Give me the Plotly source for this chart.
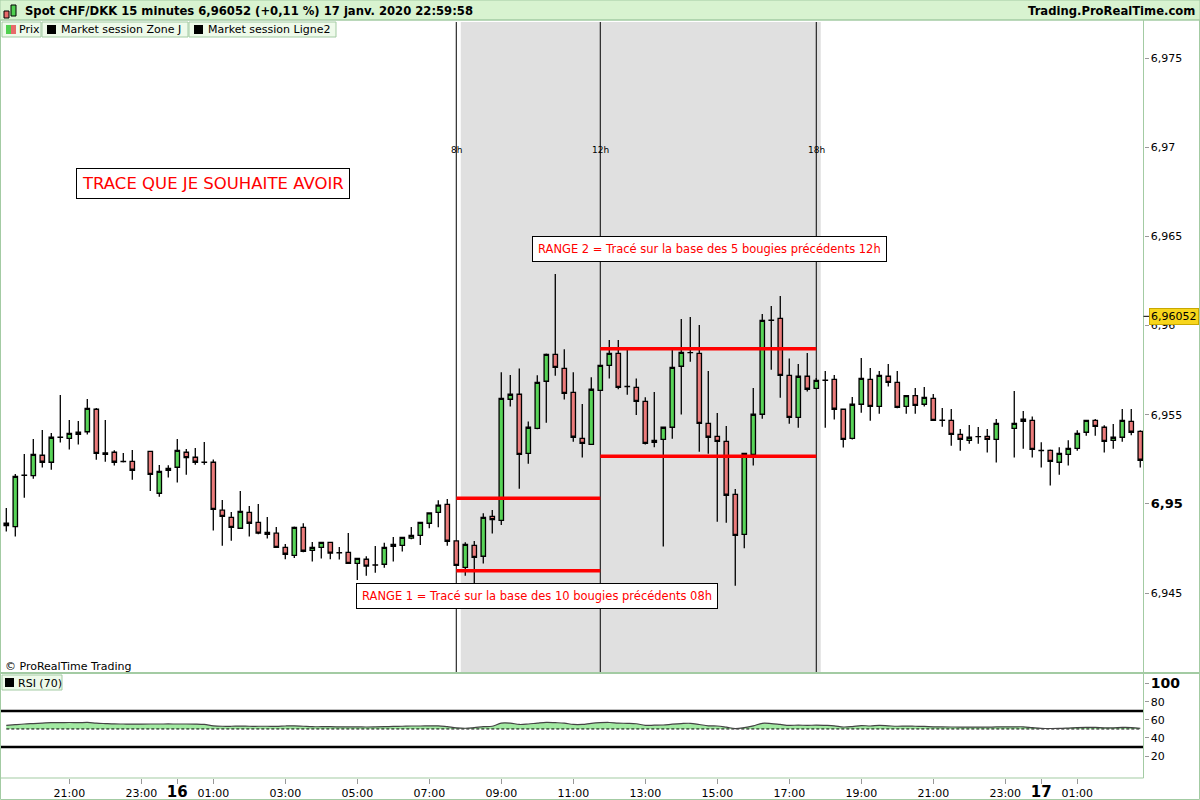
import pandas as pd
import plotly.graph_objects as go

# ---------------- data ----------------
times = pd.date_range("2020-01-15 19:15", periods=127, freq="15min")

opens = [6.94892, 6.94873, 6.95161, 6.95159, 6.95273, 6.95234, 6.95374, 6.95368, 6.95390, 6.95405,
         6.95531, 6.95286, 6.95290, 6.95239, 6.95239, None, 6.95295, 6.95060, 6.95189, 6.95206,
         6.95290, 6.95262, 6.95234, 6.95234, 6.94965, 6.94925, 6.94864, 6.94953, 6.94897, 6.94841,
         6.94836, 6.94757, 6.94712, 6.94869, 6.94740, 6.94757, 6.94785, 6.94727, 6.94729, 6.94667,
         6.94690, 6.94658, 6.94662, 6.94763, 6.94768, 6.94808, 6.94824, 6.94892, 6.94953, 6.94998,
         6.94793, 6.94645, 6.94768, 6.94707, 6.94931, 6.94908, 6.95587, 6.95615, 6.95284, 6.95424,
         6.95688, 6.95839, 6.95760, 6.95626, 6.95368, 6.95334, 6.95637, 6.95777, 6.95844, 6.95658,
         6.95654, 6.95575, 6.95346, 6.95362, 6.95430, 6.95772, 6.95848, 6.95844, 6.95452, 6.95379,
         6.95351, 6.95054, 6.94830, 6.95278, 6.95503, 6.96031, 6.96041, 6.95721, 6.95486, 6.95716,
         6.95648, 6.95693, 6.95699, 6.95531, 6.95368, 6.95559, 6.95699, 6.95547, 6.95716, 6.95682,
         6.95547, 6.95607, 6.95559, 6.95592, 6.95469, 6.95469, 6.95390, 6.95357, 6.95377, 6.95379,
         6.95362, None, 6.95424, 6.95463, 6.95469, 6.95299, 6.95301, 6.95234, 6.95278, 6.95312,
         6.95402, 6.95469, 6.95430, 6.95357, 6.95374, 6.95463, 6.95407]
highs = [6.94978, 6.95168, 6.95280, 6.95364, 6.95415, 6.95398, 6.95611, 6.95471, 6.95465, 6.95589,
         6.95538, 6.95471, 6.95301, 6.95286, 6.95303, None, 6.95295, 6.95219, 6.95217, 6.95364,
         6.95308, 6.95314, 6.95348, 6.95250, 6.95022, 6.94955, 6.95073, 6.94989, 6.95000, 6.94927,
         6.94871, 6.94776, 6.94873, 6.94892, 6.94787, 6.94785, 6.94785, 6.94759, 6.94837, 6.94695,
         6.94707, 6.94765, 6.94783, 6.94815, 6.94813, 6.94871, 6.94897, 6.94950, 6.95021, 6.95028,
         6.94793, 6.94785, 6.94793, 6.94948, 6.94966, 6.95738, 6.95723, 6.95760, 6.95463, 6.95721,
         6.95844, 6.96289, 6.95867, 6.95738, 6.95561, 6.95710, 6.95777, 6.95919, 6.95919, 6.95863,
         6.95704, 6.95598, 6.95628, 6.95433, 6.95863, 6.96037, 6.96048, 6.96003, 6.95745, 6.95510,
         6.95437, 6.95084, 6.95284, 6.95650, 6.96065, 6.96110, 6.96166, 6.95816, 6.95785, 6.95846,
         6.95706, 6.95745, 6.95723, 6.95532, 6.95600, 6.95818, 6.95762, 6.95745, 6.95785, 6.95745,
         6.95607, 6.95650, 6.95656, 6.95617, 6.95538, 6.95532, 6.95420, 6.95443, 6.95432, 6.95420,
         6.95476, None, 6.95633, 6.95521, 6.95491, 6.95346, 6.95306, 6.95318, 6.95357, 6.95413,
         6.95471, 6.95476, 6.95441, 6.95448, 6.95532, 6.95532, 6.95413]
lows = [6.94845, 6.94817, 6.95035, 6.95142, 6.95204, 6.95192, 6.95344, 6.95305, 6.95333, 6.95390,
        6.95248, 6.95237, 6.95215, 6.95232, 6.95136, None, 6.95073, 6.95041, 6.95148, 6.95120,
        6.95164, 6.95220, 6.95220, 6.94851, 6.94766, 6.94794, 6.94862, 6.94817, 6.94830, 6.94806,
        6.94753, 6.94690, 6.94697, 6.94729, 6.94677, 6.94694, 6.94690, 6.94688, 6.94667, 6.94574,
        6.94598, 6.94615, 6.94643, 6.94677, 6.94733, 6.94802, 6.94770, 6.94864, 6.94869, 6.94766,
        6.94656, 6.94598, 6.94552, 6.94666, 6.94834, 6.94882, 6.95546, 6.95086, 6.95226, 6.95419,
        6.95456, 6.95719, 6.95585, 6.95349, 6.95260, 6.95334, 6.95637, 6.95704, 6.95643, 6.95613,
        6.95499, 6.95333, 6.95318, 6.94761, 6.95366, 6.95501, 6.95798, 6.95293, 6.95282, 6.94901,
        6.94895, 6.94542, 6.94752, 6.95215, 6.95478, 6.95753, 6.95596, 6.95450, 6.95428, 6.95630,
        6.95643, 6.95428, 6.95473, 6.95316, 6.95362, 6.95512, 6.95467, 6.95506, 6.95658, 6.95536,
        6.95506, 6.95506, 6.95547, 6.95469, 6.95433, 6.95327, 6.95299, 6.95338, 6.95338, 6.95288,
        6.95232, None, 6.95260, 6.95310, 6.95260, 6.95204, 6.95103, 6.95164, 6.95215, 6.95299,
        6.95383, 6.95383, 6.95288, 6.95310, 6.95349, 6.95385, 6.95204]
closes = [6.94879, 6.95155, 6.95162, 6.95278, 6.95234, 6.95374, 6.95375, 6.95396, 6.95402, 6.95536,
          6.95284, 6.95278, 6.95234, 6.95238, 6.95189, None, 6.95166, 6.95183, 6.95200, 6.95301,
          6.95260, 6.95234, 6.95233, 6.94970, 6.94931, 6.94869, 6.94959, 6.94892, 6.94836, 6.94830,
          6.94757, 6.94718, 6.94869, 6.94735, 6.94757, 6.94785, 6.94724, 6.94726, 6.94667, 6.94695,
          6.94652, 6.94657, 6.94757, 6.94774, 6.94813, 6.94824, 6.94897, 6.94950, 6.94993, 6.94791,
          6.94656, 6.94774, 6.94701, 6.94925, 6.94912, 6.95592, 6.95615, 6.95278, 6.95430, 6.95682,
          6.95839, 6.95766, 6.95620, 6.95374, 6.95340, 6.95643, 6.95777, 6.95844, 6.95654, 6.95659,
          6.95575, 6.95340, 6.95357, 6.95430, 6.95766, 6.95850, 6.95849, 6.95452, 6.95374, 6.95351,
          6.95049, 6.94824, 6.95284, 6.95503, 6.96029, 6.96030, 6.95721, 6.95486, 6.95716, 6.95643,
          6.95693, 6.95694, 6.95531, 6.95362, 6.95559, 6.95704, 6.95547, 6.95721, 6.95682, 6.95542,
          6.95607, 6.95553, 6.95598, 6.95469, 6.95470, 6.95390, 6.95362, 6.95374, 6.95378, 6.95362,
          6.95452, None, 6.95452, 6.95475, 6.95306, 6.95300, 6.95239, 6.95284, 6.95312, 6.95396,
          6.95469, 6.95435, 6.95351, 6.95374, 6.95469, 6.95402, 6.95245]

rsi = [54.0, 54.8, 55.5, 56.0, 56.5, 57.0, 57.0, 57.2, 57.0, 57.3,
       56.5, 56.0, 55.6, 55.5, 55.4, None, 55.5, 55.5, 55.6, 55.5,
       55.5, 55.4, 55.0, 53.5, 53.0, 53.0, 53.2, 53.0, 53.0, 53.0,
       52.8, 53.3, 53.5, 53.0, 52.5, 52.5, 52.5, 52.4, 52.3, 52.3,
       52.2, 52.3, 52.5, 52.8, 53.0, 53.3, 53.3, 53.4, 53.5, 52.5,
       51.3, 50.8, 51.5, 52.5, 53.0, 56.5, 56.5, 55.0, 55.5, 56.5,
       57.3, 57.0, 56.5, 55.0, 55.0, 56.3, 57.0, 57.2, 56.5, 56.3,
       55.8, 54.0, 54.2, 54.4, 55.3, 56.0, 56.3, 55.0, 53.5, 53.3,
       52.0, 50.4, 51.5, 53.5, 56.3, 56.0, 55.0, 54.0, 54.3, 54.0,
       54.3, 54.0, 53.5, 52.2, 52.7, 53.8, 53.3, 54.0, 53.5, 53.0,
       53.2, 53.0, 52.8, 52.4, 52.3, 52.2, 52.1, 52.1, 52.1, 52.0,
       52.3, None, 52.4, 52.4, 51.5, 50.7, 50.5, 50.6, 51.0, 51.5,
       51.8, 51.7, 51.3, 51.3, 51.7, 51.6, 50.8]
rsi_mid = [50] * len(rsi)

session_times = ["2020-01-16 07:45", "2020-01-16 11:45", "2020-01-16 17:45"]
session_labels = ["8h", "12h", "18h"]
zone_start, zone_end = "2020-01-16 07:52:30", "2020-01-16 17:52:30"

range_starts = ["2020-01-16 07:45", "2020-01-16 11:45"]
range_ends = ["2020-01-16 11:45", "2020-01-16 17:45"]
range_highs = [6.95032, 6.95870]
range_lows = [6.94626, 6.95267]

last_price = 6.96052

x_tickvals = ["2020-01-15 21:00", "2020-01-15 23:00", "2020-01-16 00:00", "2020-01-16 01:00",
              "2020-01-16 03:00", "2020-01-16 05:00", "2020-01-16 07:00", "2020-01-16 09:00",
              "2020-01-16 11:00", "2020-01-16 13:00", "2020-01-16 15:00", "2020-01-16 17:00",
              "2020-01-16 19:00", "2020-01-16 21:00", "2020-01-16 23:00", "2020-01-17 00:00",
              "2020-01-17 01:00"]
big = "<b><span style='font-size:15px'>%s</span></b>"
x_ticktext = ["21:00", "23:00", big % "16", "01:00", "03:00", "05:00", "07:00", "09:00", "11:00",
              "13:00", "15:00", "17:00", "19:00", "21:00", "23:00", big % "17", "01:00"]
y_tickvals = [6.945, 6.95, 6.955, 6.96, 6.965, 6.97, 6.975]
y_ticktext = ["6,945", "<b><span style='font-size:13px'>6,95</span></b>", "6,955", "6,96",
              "6,965", "6,97", "6,975"]
rsi_tickvals = [20, 40, 60, 80, 100]
rsi_ticktext = ["20", "40", "60", "80", "<b><span style='font-size:14px'>100</span></b>"]
rsi_levels = [70, 30]

# ---------------- layout helpers ----------------
W, H = 1200, 800
FONT = "DejaVu Sans"
GREEN_LINE = "#a3cba3"


def px(x):
    return x / W


def py(y):
    return 1 - y / H


X_RIGHT = px(1143.5)
MAIN_DOM = [py(672), py(22)]
RSI_DOM = [py(778), py(674)]

fig = go.Figure()

# candles
fig.add_trace(go.Candlestick(
    x=times, open=opens, high=highs, low=lows, close=closes,
    increasing=dict(fillcolor="#58d458", line=dict(color="black", width=1.3)),
    decreasing=dict(fillcolor="#eb7b7b", line=dict(color="black", width=1.3)),
    whiskerwidth=0, xaxis="x", yaxis="y", showlegend=False, hoverinfo="skip"))

# range lines
for s, e, hi, lo in zip(range_starts, range_ends, range_highs, range_lows):
    for v in (hi, lo):
        fig.add_trace(go.Scatter(x=[s, e], y=[v, v], mode="lines",
                                 line=dict(color="#ff0000", width=3.5),
                                 xaxis="x", yaxis="y", showlegend=False, hoverinfo="skip"))

# RSI
fig.add_trace(go.Scatter(x=times, y=rsi_mid, mode="lines",
                         line=dict(color="black", width=1, dash="3px,2px"),
                         xaxis="x", yaxis="y2", showlegend=False, hoverinfo="skip"))
fig.add_trace(go.Scatter(x=times, y=rsi, mode="lines", connectgaps=True,
                         line=dict(color="#444444", width=1.2, shape="spline"),
                         fill="tonexty", fillcolor="rgba(130,225,130,0.75)",
                         xaxis="x", yaxis="y2", showlegend=False, hoverinfo="skip"))
for lv in rsi_levels:
    fig.add_trace(go.Scatter(x=[times[0] - pd.Timedelta("15min"), times[-1] + pd.Timedelta("15min")],
                             y=[lv, lv], mode="lines", line=dict(color="black", width=2.5),
                             xaxis="x", yaxis="y2", showlegend=False, hoverinfo="skip"))

shapes = []
# session zone and lines
shapes.append(dict(type="rect", xref="x", yref="y domain", x0=zone_start, x1=zone_end, y0=0, y1=1,
                   fillcolor="#e0e0e0", line=dict(width=0), layer="below"))
for t in session_times:
    shapes.append(dict(type="line", xref="x", yref="y domain", x0=t, x1=t, y0=0, y1=1,
                       line=dict(color="black", width=1), layer="below"))

# frame / header
shapes.append(dict(type="rect", xref="paper", yref="paper", x0=0, x1=1, y0=py(20), y1=1,
                   fillcolor="#d8f3d0", line=dict(color=GREEN_LINE, width=1)))
shapes.append(dict(type="rect", xref="paper", yref="paper", x0=px(0.5), x1=px(1199.5), y0=py(799.5), y1=py(20),
                   fillcolor="rgba(0,0,0,0)", line=dict(color=GREEN_LINE, width=1)))
shapes.append(dict(type="line", xref="paper", yref="paper", x0=X_RIGHT, x1=X_RIGHT, y0=py(778), y1=py(20),
                   line=dict(color=GREEN_LINE, width=1)))
shapes.append(dict(type="line", xref="paper", yref="paper", x0=0, x1=1, y0=py(673), y1=py(673),
                   line=dict(color=GREEN_LINE, width=2)))
shapes.append(dict(type="line", xref="paper", yref="paper", x0=0, x1=X_RIGHT, y0=py(778), y1=py(778),
                   line=dict(color=GREEN_LINE, width=1)))
# header icon
shapes.append(dict(type="rect", xref="paper", yref="paper", x0=px(4), x1=px(9), y0=py(18), y1=py(11),
                   fillcolor="#e86a6a", line=dict(color="black", width=1)))
shapes.append(dict(type="rect", xref="paper", yref="paper", x0=px(11), x1=px(16), y0=py(16), y1=py(5),
                   fillcolor="#50d050", line=dict(color="black", width=1)))

# legend boxes
legend_boxes = [(2, 41), (42, 188), (189, 336)]
for a, b in legend_boxes:
    shapes.append(dict(type="rect", xref="paper", yref="paper", x0=px(a), x1=px(b), y0=py(37), y1=py(22),
                       fillcolor="#eefaea", line=dict(color=GREEN_LINE, width=1)))
shapes.append(dict(type="rect", xref="paper", yref="paper", x0=px(6), x1=px(11), y0=py(34), y1=py(25),
                   fillcolor="#50d050", line=dict(width=0)))
shapes.append(dict(type="rect", xref="paper", yref="paper", x0=px(11), x1=px(16), y0=py(34), y1=py(25),
                   fillcolor="#e86a6a", line=dict(width=0)))
for a in (47, 194):
    shapes.append(dict(type="rect", xref="paper", yref="paper", x0=px(a), x1=px(a + 9), y0=py(34), y1=py(25),
                       fillcolor="black", line=dict(width=0)))
shapes.append(dict(type="rect", xref="paper", yref="paper", x0=px(2), x1=px(62), y0=py(690), y1=py(675),
                   fillcolor="#eefaea", line=dict(color=GREEN_LINE, width=1)))
shapes.append(dict(type="rect", xref="paper", yref="paper", x0=px(5), x1=px(14), y0=py(687), y1=py(678),
                   fillcolor="black", line=dict(width=0)))
# price marker tick
shapes.append(dict(type="line", xref="paper", yref="y", x0=X_RIGHT, x1=px(1149), y0=last_price, y1=last_price,
                   line=dict(color="black", width=1)))

annotations = []


def ann(text, x, y, size=11, color="black", xanchor="left", yanchor="middle", **kw):
    annotations.append(dict(text=text, x=x, y=y, xref=kw.pop("xref", "paper"), yref=kw.pop("yref", "paper"),
                            showarrow=False, xanchor=xanchor, yanchor=yanchor,
                            font=dict(family=FONT, size=size, color=color), **kw))


ann("<b>Spot CHF/DKK 15 minutes 6,96052 (+0,11 %) 17 janv. 2020 22:59:58</b>", px(23), py(11), size=11.6)
ann("<b>Trading.ProRealTime.com</b>", px(1197), py(11), size=11.6, xanchor="right")
ann("Prix", px(17), py(30), size=11)
ann("Market session Zone J", px(59), py(30), size=11)
ann("Market session Ligne2", px(206), py(30), size=11)
ann("RSI (70)", px(16), py(683), size=11)
ann("© ProRealTime Trading", px(3), py(666), size=11)

for t, lab in zip(session_times, session_labels):
    ann(lab, t, py(150), size=9, xanchor="center", xref="x")

ann("TRACE QUE JE SOUHAITE AVOIR", px(213), py(183), size=16.5, color="#ff0000", xanchor="center",
    bgcolor="white", bordercolor="black", borderwidth=1, borderpad=5)
ann("RANGE 2 = Tracé sur la base des 5 bougies précédents 12h", px(709), py(249), size=11.5,
    color="#ff0000", xanchor="center", bgcolor="white", bordercolor="black", borderwidth=1, borderpad=5)
ann("RANGE 1 = Tracé sur la base des 10 bougies précédents 08h", px(536.5), py(596), size=11.5,
    color="#ff0000", xanchor="center", bgcolor="white", bordercolor="black", borderwidth=1, borderpad=5)
ann("6,96052", px(1149), last_price, size=11, yref="y", bgcolor="#f7d51c", bordercolor="#c8a800",
    borderwidth=1, borderpad=1)

x0 = times[0] - pd.Timedelta(minutes=10.5)
x1 = times[-1] + pd.Timedelta(minutes=5.4)

fig.update_layout(
    width=W, height=H, margin=dict(l=0, r=0, t=0, b=0, autoexpand=False),
    paper_bgcolor="white", plot_bgcolor="white",
    font=dict(family=FONT, size=11, color="black"),
    showlegend=False,
    shapes=shapes, annotations=annotations,
    xaxis=dict(type="date", domain=[0, X_RIGHT], range=[x0, x1], anchor="y2", automargin=False,
               tickvals=x_tickvals, ticktext=x_ticktext, ticks="outside", ticklen=5, tickcolor="#999999",
               showgrid=False, zeroline=False, showline=False, rangeslider=dict(visible=False),
               tickfont=dict(family=FONT, size=11, color="black")),
    yaxis=dict(domain=MAIN_DOM, range=[6.94058, 6.97702], side="right", anchor="x", automargin=False,
               tickvals=y_tickvals, ticktext=y_ticktext, ticks="outside", ticklen=4, tickcolor="#999999",
               showgrid=False, zeroline=False, showline=False,
               tickfont=dict(family=FONT, size=11, color="black")),
    yaxis2=dict(domain=RSI_DOM, range=[-4.4, 111], side="right", anchor="x", automargin=False,
                tickvals=rsi_tickvals, ticktext=rsi_ticktext, ticks="outside", ticklen=4, tickcolor="#999999",
                showgrid=False, zeroline=False, showline=False,
                tickfont=dict(family=FONT, size=11, color="black")),
)

fig.write_html("out.html", config={"displayModeBar": False},
               post_script="document.body.style.margin='0';document.body.style.overflow='hidden';")
